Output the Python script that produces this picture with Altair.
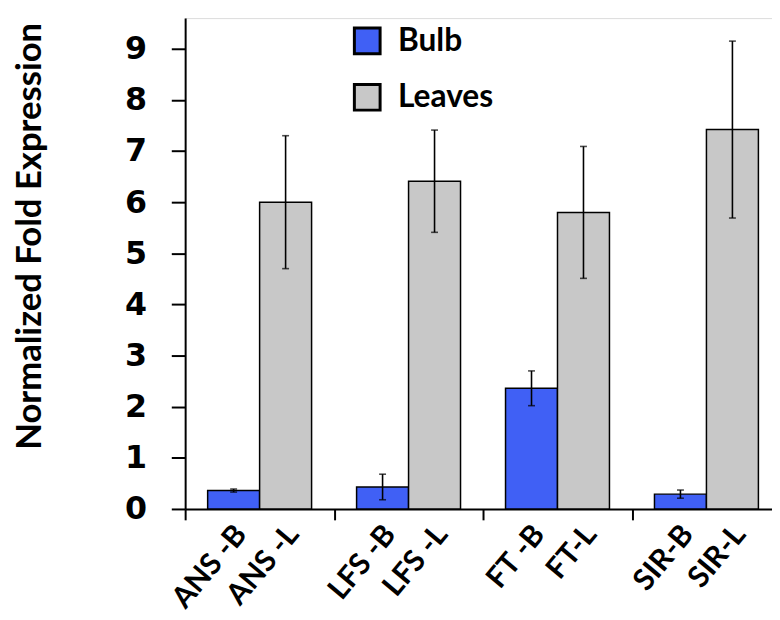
import altair as alt
import pandas as pd

genes = ["ANS", "LFS", "FT", "SIR"]
tissues = ["Bulb", "Leaves"]
labels_bulb = ["ANS -B", "LFS -B", "FT -B", "SIR-B"]
labels_leaves = ["ANS -L", "LFS -L", "FT-L", "SIR-L"]
bulb_values = [0.36, 0.43, 2.36, 0.29]
bulb_err = [0.03, 0.25, 0.34, 0.08]
leaves_values = [6.0, 6.41, 5.8, 7.42]
leaves_err = [1.3, 1.0, 1.29, 1.73]

rows = []
for i, g in enumerate(genes):
    rows.append(dict(gene=g, tissue="Bulb", value=bulb_values[i], err=bulb_err[i], label=labels_bulb[i]))
    rows.append(dict(gene=g, tissue="Leaves", value=leaves_values[i], err=leaves_err[i], label=labels_leaves[i]))
df = pd.DataFrame(rows)
df["lo"] = df["value"] - df["err"]
df["hi"] = df["value"] + df["err"]

xscale = alt.Scale(domain=genes, range=[0, 602], paddingInner=0, paddingOuter=0)
offscale = alt.Scale(domain=tissues, paddingInner=0, paddingOuter=0.433)
yscale = alt.Scale(domain=[0, 9.6], nice=False)

x_enc = alt.X("gene:N", scale=xscale, sort=genes,
              axis=alt.Axis(title=None, labels=False, tickBand="extent", tickSize=11,
                            tickWidth=2, tickColor="black", domainColor="black",
                            domainWidth=2))
xo_enc = alt.XOffset("tissue:N", scale=offscale, sort=tissues)

base = alt.Chart(df)

bars = base.mark_bar(stroke="black", strokeWidth=1.5).encode(
    x=x_enc,
    xOffset=xo_enc,
    y=alt.Y("value:Q", scale=yscale,
            axis=alt.Axis(title="Normalized Fold Expression", values=list(range(10)),
                          grid=False, tickSize=14, tickWidth=2, tickColor="black",
                          domainColor="black", domainWidth=2,
                          labelFont="DejaVu Sans", labelFontWeight="bold",
                          labelFontSize=32, labelColor="black", labelPadding=25,
                          titleFont="Lato", titleFontWeight="bold", titleFontSize=35,
                          titleColor="black", titleAngle=270, titleAlign="center",
                          titleBaseline="middle", titleX=-157, titleY=220)),
    color=alt.Color("tissue:N", scale=alt.Scale(domain=tissues, range=["#4060f5", "#c8c8c8"]),
                    legend=alt.Legend(title=None, orient="none", legendX=168, legendY=7,
                                      symbolType="square", symbolSize=676,
                                      symbolStrokeColor="black", symbolStrokeWidth=3,
                                      labelFont="Lato", labelFontWeight="bold",
                                      labelFontSize=32, labelColor="black",
                                      rowPadding=19, labelOffset=15, padding=0)),
)

rules = base.mark_rule(color="black", strokeWidth=1.6).encode(
    x=alt.X("gene:N", scale=xscale, sort=genes),
    xOffset=xo_enc,
    y=alt.Y("lo:Q", scale=yscale),
    y2="hi:Q",
)

cap_hi = base.mark_tick(color="black", size=7, thickness=1.6).encode(
    x=alt.X("gene:N", scale=xscale, sort=genes),
    xOffset=xo_enc,
    y=alt.Y("hi:Q", scale=yscale),
)
cap_lo = base.mark_tick(color="black", size=7, thickness=1.6).encode(
    x=alt.X("gene:N", scale=xscale, sort=genes),
    xOffset=xo_enc,
    y=alt.Y("lo:Q", scale=yscale),
)

texts = base.mark_text(angle=310, align="right", baseline="middle", font="Lato",
                       fontWeight="bold", fontSize=30, color="black", dx=12).encode(
    x=alt.X("gene:N", scale=xscale, sort=genes),
    xOffset=xo_enc,
    y=alt.value(526),
    text="label:N",
)

chart = alt.layer(bars, rules, cap_hi, cap_lo, texts).properties(
    width=593, height=496,
    autosize=alt.AutoSizeParams(type="none"),
    padding={"left": 179, "top": 7, "right": 0, "bottom": 109},
).configure_view(stroke=None).configure(background="white")

chart.save("out.html", embed_options={"renderer": "svg", "actions": False})
